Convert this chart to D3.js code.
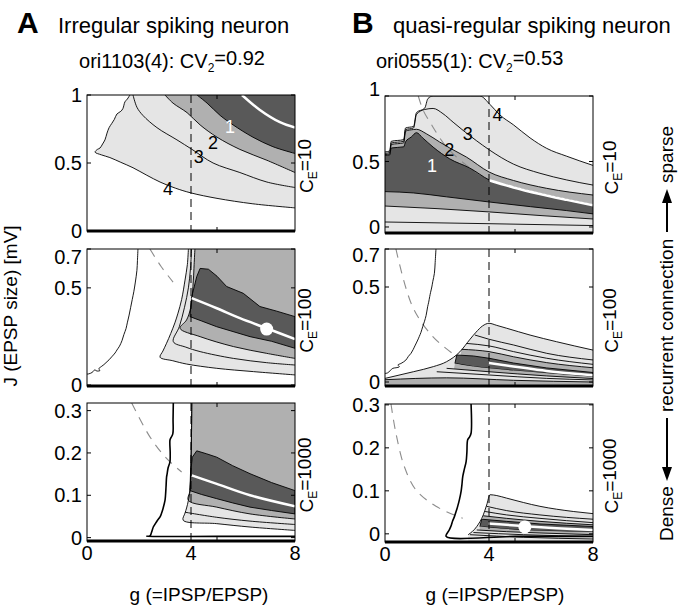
<!DOCTYPE html>
<html>
<head>
<meta charset="utf-8">
<script src="https://cdnjs.cloudflare.com/ajax/libs/d3/7.8.5/d3.min.js"></script>
<style>
body { margin: 0; background: #fff; }
svg { font-family: "Liberation Sans", Arial, sans-serif; }
</style>
</head>
<body>
<svg width="692" height="608"></svg>
<script>
const svg = d3.select("svg");

const light = "#e5e5e5", mid = "#b0b0b0", dark = "#595959";

// axis values
const gTicks = [0, 4, 8];
const gMinorTicks = [5];
const jTicksTop = [0, 0.5, 1];
const jTicksMid = [0, 0.5, 0.7];
const jTicksBot = [0, 0.1, 0.2, 0.3];
const ceValues = ["10", "100", "1000"];
const gBalance = 4;

// ---- A, C_E = 10 : contour lines as [g, J] ----
const aTopC4 = [[1.65,1.0],[1.55,0.97],[1.46,0.95],[1.38,0.90],[1.3,0.88],[1.15,0.86],[1.05,0.82],[0.95,0.79],[0.85,0.76],[0.77,0.72],[0.69,0.67],[0.6,0.64],[0.5,0.61],[0.4,0.60],[0.31,0.58],[0.55,0.56],[0.88,0.54],[1.3,0.505],[1.77,0.465],[2.3,0.41],[2.81,0.36],[3.4,0.315],[4.0,0.28],[5.0,0.24],[6.38,0.20],[8,0.17]];
const aTopC3 = [[1.77,1.0],[1.92,0.91],[2.15,0.85],[2.69,0.76],[3.46,0.67],[4.04,0.60],[4.85,0.50],[5.88,0.43],[6.92,0.36],[8,0.32]];
const aTopC2 = [[3.0,1.0],[3.31,0.94],[3.85,0.87],[4.35,0.78],[5.0,0.69],[5.88,0.60],[6.92,0.52],[8,0.43]];
const aTopC1 = [[4.23,1.0],[4.62,0.94],[5.12,0.85],[5.62,0.78],[6.38,0.69],[7.15,0.62],[8,0.57]];
const aTopWhite = [[5.96,1.0],[6.65,0.89],[7.42,0.80],[8,0.76]];
const aTopLabels = [["4",3.12,0.316],["3",4.3,0.544],["2",4.85,0.654],["1",5.5,0.765]];

// ---- A, C_E = 100 ----
const aMidEdge = [[1.96,0.70],[1.94,0.64],[1.92,0.59],[1.86,0.53],[1.80,0.48],[1.74,0.44],[1.68,0.40],[1.62,0.36],[1.55,0.32],[1.50,0.29],[1.42,0.26],[1.35,0.23],[1.25,0.20],[1.15,0.18],[1.08,0.165],[0.95,0.145],[0.85,0.13],[0.77,0.12],[0.65,0.105],[0.55,0.095],[0.45,0.083],[0.5,0.075],[0.38,0.072],[0.3,0.078],[0.2,0.065],[0.08,0.058],[0,0.056]];
const aMidGray = [[2.42,0.70],[2.85,0.61],[3.31,0.53]];
const aMidL = [[3.90,0.70],[3.86,0.62],[3.77,0.54],[3.64,0.44],[3.50,0.37],[3.38,0.32],[3.22,0.265],[3.06,0.215],[2.92,0.175],[2.81,0.143],[3.3,0.125],[3.83,0.108],[4.99,0.086],[6.40,0.069],[8,0.052]];
const aMidLine2 = [[4.02,0.70],[3.98,0.60],[3.90,0.50],[3.75,0.40],[3.55,0.30],[3.32,0.223],[3.8,0.195],[4.35,0.172],[5.63,0.137],[6.91,0.115],[8,0.103]];
const aMidMed = [[4.15,0.70],[4.12,0.62],[4.09,0.54],[3.99,0.40],[3.83,0.335],[3.58,0.292],[4.35,0.249],[5.63,0.198],[6.91,0.163],[8,0.137]];
const aMidDark = [[4.35,0.60],[4.67,0.596],[5.0,0.56],[5.37,0.507],[6.01,0.472],[6.65,0.404],[7.3,0.38],[8,0.352],[8,0.189],[7.1,0.225],[6.27,0.249],[4.99,0.30],[4.4,0.33],[3.96,0.352],[3.99,0.40],[4.03,0.455],[4.22,0.558]];
const aMidWhite = [[4.03,0.447],[4.99,0.395],[5.88,0.344],[6.91,0.292],[8,0.236]];
const aMidDot = [[6.91,0.288]];

// ---- A, C_E = 1000 ----
const aBotEdge = [[3.32,0.32],[3.31,0.28],[3.30,0.245],[3.22,0.235],[3.19,0.23],[3.2,0.2],[3.19,0.179],[3.12,0.165],[3.08,0.15],[3.06,0.143],[3.04,0.12],[3.02,0.10],[3.0,0.088],[2.93,0.07],[2.87,0.058],[2.81,0.049],[2.7,0.04],[2.6,0.03],[2.55,0.025],[2.48,0.012],[2.42,0.004],[2.3,0.003],[5,0.003],[8,0.003]];
const aBotGray = [[1.72,0.318],[2.42,0.238],[3.06,0.187],[3.64,0.155]];
const aBotL = [[4.03,0.318],[4.02,0.25],[4.0,0.18],[3.96,0.111],[3.90,0.088],[3.83,0.070],[3.77,0.058],[3.70,0.041],[4.99,0.033],[6.27,0.025],[8,0.017]];
const aBotLine5 = [[3.77,0.060],[4.99,0.048],[6.27,0.039],[8,0.031]];
const aBotBand4 = [[4.03,0.318],[4.02,0.25],[4.0,0.18],[3.96,0.111],[3.90,0.088],[4.99,0.072],[6.27,0.056],[8,0.044]];
const aBotDark = [[4.22,0.205],[4.6,0.198],[4.99,0.190],[5.6,0.17],[6.27,0.151],[7.1,0.13],[8,0.111],[8,0.056],[7.1,0.064],[6.27,0.072],[5.6,0.082],[4.99,0.092],[4.4,0.102],[3.96,0.111],[3.98,0.15],[4.05,0.19]];
const aBotWhite = [[4.03,0.147],[4.99,0.127],[6.27,0.100],[8,0.074]];

// ---- B, C_E = 10 ----
const bTopOuter = [[0,0.573],[0.18,0.58],[0.24,0.654],[0.72,0.667],[0.79,0.756],[1.10,0.768],[1.21,0.873],[1.53,0.908],[1.65,0.98],[1.85,1.0],[2.6,1.0],[3.3,1.0],[3.65,1.0],[4.04,0.935],[4.42,0.855],[4.94,0.78],[5.58,0.68],[6.22,0.60],[6.99,0.54],[8,0.47]];
const bTopC3 = [[0,0.562],[0.18,0.568],[0.24,0.641],[0.72,0.654],[0.79,0.743],[1.10,0.756],[1.21,0.86],[1.53,0.897],[1.85,0.905],[2.23,0.865],[2.62,0.80],[3.0,0.738],[3.51,0.66],[4.0,0.59],[4.94,0.48],[5.96,0.41],[6.99,0.359],[8,0.32]];
const bTopC2 = [[0,0.553],[0.18,0.558],[0.24,0.630],[0.72,0.642],[0.79,0.732],[1.10,0.744],[1.21,0.746],[1.59,0.712],[2.1,0.649],[2.49,0.603],[3.13,0.534],[4.0,0.42],[4.94,0.355],[6.22,0.295],[8,0.244]];
const bTopC1 = [[0,0.547],[0.18,0.55],[0.24,0.603],[0.72,0.612],[0.79,0.65],[1.01,0.687],[1.21,0.72],[1.45,0.68],[1.85,0.61],[2.49,0.52],[3.26,0.45],[4.0,0.36],[4.94,0.305],[5.96,0.255],[6.99,0.21],[8,0.168]];
const bTopWhite = [[4.0,0.357],[4.94,0.302],[5.96,0.252],[6.99,0.207],[8,0.165]];
const bTopDB = [[0,0.27],[1.09,0.26],[2.37,0.23],[4.04,0.19],[5.6,0.155],[6.99,0.125],[8,0.10]];
const bTopLB = [[0,0.16],[2,0.14],[4,0.115],[6,0.087],[8,0.061]];
const bTopLA = [[0,0.038],[4,0.025],[8,0.011]];
const bTopGray = [[1.28,1.0],[1.47,0.89],[1.73,0.80],[2.37,0.61],[3.14,0.47],[3.91,0.37]];
const bTopLabels = [["4",4.33,0.855],["3",3.18,0.715],["2",2.47,0.588],["1",1.81,0.473]];

// ---- B, C_E = 100 ----
const bMidEdge = [[1.96,0.70],[1.93,0.63],[1.90,0.572],[1.84,0.53],[1.80,0.50],[1.75,0.47],[1.72,0.45],[1.68,0.42],[1.64,0.396],[1.58,0.35],[1.52,0.32],[1.45,0.291],[1.38,0.26],[1.32,0.24],[1.26,0.221],[1.15,0.19],[1.08,0.17],[1.0,0.151],[0.9,0.135],[0.8,0.115],[0.62,0.098],[0.5,0.09],[0.55,0.08],[0.42,0.075],[0.30,0.072],[0.2,0.06],[0.10,0.048],[0,0.045]];
const bMidGray = [[0.42,0.70],[1.06,0.396],[1.83,0.24],[2.6,0.15]];
const bMidOuter = [[0,0.019],[1.09,0.054],[1.86,0.081],[2.37,0.107],[2.88,0.159],[3.27,0.225],[3.5,0.262],[3.75,0.295],[4.0,0.309],[4.3,0.298],[4.68,0.283],[5.58,0.247],[6.6,0.212],[8,0.168]];
const bMidI1 = [[3.46,0.247],[4.0,0.225],[4.94,0.195],[6.22,0.151],[8,0.116]];
const bMidI2 = [[3.14,0.203],[4.0,0.19],[4.94,0.16],[6.22,0.125],[8,0.093]];
const bMidI3 = [[2.95,0.172],[4.0,0.16],[4.94,0.133],[6.22,0.102],[8,0.075]];
const bMidDarkTop = [[2.76,0.142],[3.40,0.137],[4.0,0.125],[4.94,0.10],[6.22,0.074],[8,0.05]];
const bMidWhite = [[4.0,0.10],[4.94,0.082],[6.22,0.058],[8,0.036]];
const bMidDarkBot = [[2.69,0.098],[3.40,0.081],[4.0,0.072],[4.94,0.06],[6.22,0.046],[8,0.028]];
const bMidI6 = [[2.37,0.072],[4.0,0.054],[6.22,0.032],[8,0.018]];
const bMidI7 = [[1.99,0.054],[4.0,0.037],[6.22,0.019],[8,0.011]];
const bMidBottom = [[0,0.012],[2.37,0.022],[4.94,0.009],[8,0.0]];

// ---- B, C_E = 1000 ----
const bBotEdge = [[3.31,0.302],[3.31,0.234],[3.25,0.225],[3.18,0.219],[3.15,0.19],[3.12,0.168],[3.05,0.15],[2.99,0.133],[2.96,0.115],[2.93,0.10],[2.86,0.079],[2.80,0.065],[2.75,0.055],[2.67,0.04],[2.6,0.03],[2.55,0.02],[2.47,0.009],[2.35,-0.006],[5,-0.006],[8,-0.006]];
const bBotGray = [[0.23,0.302],[0.42,0.234],[0.74,0.157],[1.19,0.102],[1.96,0.064],[2.99,0.036]];
const bBotOuter = [[3.20,-0.002],[3.53,0.017],[3.78,0.044],[3.91,0.067],[4.04,0.091],[4.3,0.089],[4.68,0.083],[5.96,0.064],[7.24,0.052],[8,0.047]];
const bBotI1 = [[3.91,0.064],[4.68,0.054],[5.96,0.044],[8,0.034]];
const bBotI2 = [[3.85,0.052],[4.68,0.044],[5.96,0.036],[8,0.026]];
const bBotI3 = [[3.78,0.042],[4.68,0.036],[5.96,0.029],[8,0.021]];
const bBotDarkTop = [[3.72,0.034],[4.68,0.029],[5.96,0.023],[8,0.017]];
const bBotWhite = [[3.97,0.024],[5.32,0.018],[6.60,0.013],[8,0.009]];
const bBotDarkBot = [[3.65,0.017],[4.68,0.011],[5.96,0.007],[8,0.004]];
const bBotI6 = [[3.53,0.009],[4.68,0.005],[5.96,0.002],[8,-0.002]];
const bBotI7 = [[3.40,0.003],[5.32,-0.002],[8,-0.006]];
const bBotBottom = [[3.27,-0.002],[5.32,-0.008],[8,-0.012]];
const bBotDot = [[5.38,0.016]];

// ---------- helpers ----------
const smooth = d3.curveCatmullRom.alpha(0.5);
const mono = d3.curveMonotoneX;
let clipCount = 0;

function makePanel(box, jDom) {
    const x = d3.scaleLinear().domain([0, 8]).range([box.x0, box.x1]);
    const y = d3.scaleLinear().domain(jDom).range([box.y1, box.y0]);
    const id = "clip" + (clipCount++);
    svg.append("clipPath").attr("id", id)
        .append("rect")
        .attr("x", box.x0).attr("y", box.y0)
        .attr("width", box.x1 - box.x0).attr("height", box.y1 - box.y0);
    const g = svg.append("g").attr("clip-path", "url(#" + id + ")");
    return { box, jDom, x, y, g };
}

function pathOf(p, pts, curve) {
    return d3.line().x(d => p.x(d[0])).y(d => p.y(d[1])).curve(curve || smooth)(pts);
}

function pt(p, g, j) {
    return "L" + p.x(g) + "," + p.y(j);
}

function fillAbove(p, pts, color, curve) {
    const top = p.jDom[1] + 0.1;
    const last = pts[pts.length - 1];
    const d = pathOf(p, pts, curve) + pt(p, 8.5, last[1]) + pt(p, 8.5, top) + pt(p, pts[0][0], top) + "Z";
    p.g.append("path").attr("d", d).attr("fill", color);
}

function fillBelow(p, pts, color, g0, curve) {
    const bot = p.jDom[0] - 0.1;
    const last = pts[pts.length - 1];
    const start = g0 === undefined ? pts[0][0] : g0;
    const d = pathOf(p, pts, curve) + pt(p, 8.5, last[1]) + pt(p, 8.5, bot) + pt(p, start, bot) + "Z";
    p.g.append("path").attr("d", d).attr("fill", color);
}

function polygon(p, pts, color) {
    p.g.append("path")
        .attr("d", d3.line().x(d => p.x(d[0])).y(d => p.y(d[1])).curve(d3.curveLinearClosed)(pts))
        .attr("fill", color)
        .attr("stroke", "#000")
        .attr("stroke-width", 0.9);
}

function stroke(p, pts, opts) {
    opts = opts || {};
    p.g.append("path")
        .attr("d", pathOf(p, pts, opts.curve))
        .attr("fill", "none")
        .attr("stroke", opts.color || "#000")
        .attr("stroke-width", opts.width || 0.9)
        .attr("stroke-dasharray", opts.dash || null);
}

function grayDash(p, pts) {
    stroke(p, pts, { color: "#8c8c8c", width: 1.1, dash: "9,7" });
}

function balanceLine(p) {
    p.g.append("line")
        .attr("x1", p.x(gBalance)).attr("x2", p.x(gBalance))
        .attr("y1", p.box.y0).attr("y2", p.box.y1)
        .attr("stroke", "#000").attr("stroke-width", 1)
        .attr("stroke-dasharray", "8,5");
}

function dots(p, pts) {
    p.g.selectAll(null).data(pts).enter().append("circle")
        .attr("cx", d => p.x(d[0])).attr("cy", d => p.y(d[1]))
        .attr("r", 6.5).attr("fill", "#fff");
}

function contourLabels(p, labels) {
    p.g.selectAll(null).data(labels).enter().append("text")
        .attr("x", d => p.x(d[1])).attr("y", d => p.y(d[2]))
        .attr("dy", "0.36em")
        .attr("text-anchor", "middle")
        .style("font-size", "18px")
        .attr("fill", d => d[0] === "1" ? "#fff" : "#000")
        .text(d => d[0]);
}

// topShift: the top tick label sits a little off its tick in the original
function frame(p, jTicks, ce, ceX, showG, topShift) {
    const b = p.box;
    svg.append("rect")
        .attr("x", b.x0).attr("y", b.y0)
        .attr("width", b.x1 - b.x0).attr("height", b.y1 - b.y0)
        .attr("fill", "none").attr("stroke", "#000").attr("stroke-width", 1);
    svg.append("line")
        .attr("x1", b.x0).attr("x2", b.x1).attr("y1", b.y1).attr("y2", b.y1)
        .attr("stroke", "#000").attr("stroke-width", 3);

    const jMax = d3.max(jTicks);
    jTicks.forEach(t => {
        const yy = p.y(t);
        svg.append("line").attr("x1", b.x0).attr("x2", b.x0 + 4).attr("y1", yy).attr("y2", yy).attr("stroke", "#000");
        svg.append("line").attr("x1", b.x1).attr("x2", b.x1 - 4).attr("y1", yy).attr("y2", yy).attr("stroke", "#000");
        svg.append("text")
            .attr("x", b.x0 - 5).attr("y", yy + (t === jMax ? (topShift || 0) : 0)).attr("dy", "0.36em")
            .attr("text-anchor", "end")
            .style("font-size", "20px")
            .text(String(t));
    });

    gMinorTicks.forEach(t => {
        const xx = p.x(t);
        svg.append("line").attr("x1", xx).attr("x2", xx).attr("y1", b.y0).attr("y2", b.y0 + 4).attr("stroke", "#000");
        svg.append("line").attr("x1", xx).attr("x2", xx).attr("y1", b.y1).attr("y2", b.y1 - 4).attr("stroke", "#000");
    });

    if (showG) {
        gTicks.forEach(t => {
            svg.append("text")
                .attr("x", p.x(t)).attr("y", b.y1 + 19)
                .attr("text-anchor", "middle")
                .style("font-size", "20px")
                .text(String(t));
        });
    }

    const t = svg.append("text")
        .attr("transform", "translate(" + ceX + "," + ((b.y0 + b.y1) / 2 + 3) + ") rotate(-90)")
        .attr("text-anchor", "middle")
        .style("font-size", "19px");
    t.append("tspan").text("C");
    t.append("tspan").attr("dy", "0.35em").style("font-size", "12px").text("E");
    t.append("tspan").attr("dy", "-0.35em").text("=" + ce);
}

// ---------- A : C_E = 10 ----------
const pA1 = makePanel({ x0: 87, x1: 295, y0: 95, y1: 231 }, [0, 1]);
fillAbove(pA1, aTopC4, light);
fillAbove(pA1, aTopC2, mid);
fillAbove(pA1, aTopC1, dark);
[aTopC4, aTopC3, aTopC2, aTopC1].forEach(c => stroke(pA1, c));
stroke(pA1, aTopWhite, { color: "#fff", width: 2.5 });
balanceLine(pA1);
contourLabels(pA1, aTopLabels);
frame(pA1, jTicksTop, ceValues[0], 313, false, 0);

// ---------- A : C_E = 100 ----------
const pA2 = makePanel({ x0: 87, x1: 295, y0: 249, y1: 386 }, [-0.005, 0.7]);
grayDash(pA2, aMidGray);
fillAbove(pA2, aMidL, light);
fillAbove(pA2, aMidMed, mid);
polygon(pA2, aMidDark, dark);
stroke(pA2, aMidEdge);
[aMidL, aMidLine2, aMidMed].forEach(c => stroke(pA2, c));
stroke(pA2, aMidWhite, { color: "#fff", width: 2.5 });
dots(pA2, aMidDot);
balanceLine(pA2);
frame(pA2, jTicksMid, ceValues[1], 313, false, 8);

// ---------- A : C_E = 1000 ----------
const pA3 = makePanel({ x0: 87, x1: 295, y0: 403, y1: 541 }, [-0.008, 0.318]);
grayDash(pA3, aBotGray);
fillAbove(pA3, aBotL, light);
fillAbove(pA3, aBotBand4, mid);
polygon(pA3, aBotDark, dark);
stroke(pA3, aBotEdge, { width: 1.6 });
[aBotL, aBotLine5, aBotBand4].forEach(c => stroke(pA3, c));
stroke(pA3, aBotWhite, { color: "#fff", width: 2.5 });
balanceLine(pA3);
frame(pA3, jTicksBot, ceValues[2], 313, true, 0);

// ---------- B : C_E = 10 ----------
const pB1 = makePanel({ x0: 385, x1: 593, y0: 96, y1: 233 }, [-0.046, 1.0]);
fillBelow(pB1, bTopOuter, light, 0, mono);
fillBelow(pB1, bTopC2, mid, 0, mono);
fillBelow(pB1, bTopC1, dark, 0, mono);
fillBelow(pB1, bTopDB, mid, 0, mono);
fillBelow(pB1, bTopLB, light, 0, mono);
grayDash(pB1, bTopGray);
[bTopOuter, bTopC3, bTopC2, bTopC1, bTopDB, bTopLB, bTopLA].forEach(c => stroke(pB1, c, { curve: mono }));
stroke(pB1, bTopWhite, { color: "#fff", width: 2.5, curve: mono });
balanceLine(pB1);
contourLabels(pB1, bTopLabels);
frame(pB1, jTicksTop, ceValues[0], 618, false, -7);

// ---------- B : C_E = 100 ----------
const pB2 = makePanel({ x0: 385, x1: 593, y0: 249, y1: 386 }, [-0.021, 0.7]);
grayDash(pB2, bMidGray);
fillBelow(pB2, bMidOuter, light, 0, mono);
fillBelow(pB2, bMidI3, mid, 2.5, mono);
polygon(pB2, bMidDarkTop.concat(bMidDarkBot.slice().reverse()), dark);
fillBelow(pB2, bMidDarkBot, mid, 2.4, mono);
fillBelow(pB2, bMidI6, light, 2.0, mono);
fillBelow(pB2, bMidBottom, mid, 0, mono);
stroke(pB2, bMidEdge);
[bMidOuter, bMidI1, bMidI2, bMidI3, bMidI6, bMidI7, bMidBottom].forEach(c => stroke(pB2, c, { curve: mono }));
stroke(pB2, bMidWhite, { color: "#fff", width: 2.5, curve: mono });
balanceLine(pB2);
frame(pB2, jTicksMid, ceValues[1], 618, false, 6);

// ---------- B : C_E = 1000 ----------
const pB3 = makePanel({ x0: 385, x1: 593, y0: 404, y1: 542 }, [-0.019, 0.302]);
grayDash(pB3, bBotGray);
fillBelow(pB3, bBotOuter, light, 3.2, mono);
fillBelow(pB3, bBotI3, mid, 3.5, mono);
polygon(pB3, bBotDarkTop.concat(bBotDarkBot.slice().reverse()), dark);
fillBelow(pB3, bBotDarkBot, mid, 3.5, mono);
fillBelow(pB3, bBotI6, light, 3.4, mono);
stroke(pB3, bBotEdge, { width: 1.6 });
[bBotOuter, bBotI1, bBotI2, bBotI3, bBotI6, bBotI7, bBotBottom].forEach(c => stroke(pB3, c, { curve: mono }));
stroke(pB3, bBotWhite, { color: "#fff", width: 2.5, curve: mono });
dots(pB3, bBotDot);
balanceLine(pB3);
frame(pB3, jTicksBot, ceValues[2], 618, true, 0);

// ---------- titles and axis names ----------
svg.append("text").attr("x", 17).attr("y", 33).style("font-size", "30px").style("font-weight", "bold").text("A");
svg.append("text").attr("x", 58).attr("y", 33).style("font-size", "22px").text("Irregular spiking neuron");
svg.append("text").attr("x", 352).attr("y", 33).style("font-size", "30px").style("font-weight", "bold").text("B");
svg.append("text").attr("x", 393).attr("y", 33).style("font-size", "22px").text("quasi-regular spiking neuron");

function subtitle(x, anchor, name, cv) {
    const t = svg.append("text").attr("x", x).attr("y", 68)
        .attr("text-anchor", anchor).style("font-size", "20px");
    t.append("tspan").text(name + ": CV");
    t.append("tspan").attr("dy", "0.35em").style("font-size", "12px").text("2");
    t.append("tspan").attr("dy", "-0.35em").text("=" + cv);
}
subtitle(172, "middle", "ori1103(4)", "0.92");
subtitle(376, "start", "ori0555(1)", "0.53");

svg.append("text")
    .attr("transform", "translate(17,306) rotate(-90)")
    .attr("text-anchor", "middle")
    .style("font-size", "19px")
    .text("J (EPSP size) [mV]");

svg.append("text").attr("x", 199).attr("y", 601).attr("text-anchor", "middle").style("font-size", "19px").text("g (=IPSP/EPSP)");
svg.append("text").attr("x", 495).attr("y", 601).attr("text-anchor", "middle").style("font-size", "19px").text("g (=IPSP/EPSP)");

// right side: Dense <- recurrent connection -> sparse
function vText(x, y, s) {
    svg.append("text")
        .attr("transform", "translate(" + x + "," + y + ") rotate(-90)")
        .attr("text-anchor", "start")
        .style("font-size", "19px")
        .text(s);
}
vText(673, 183, "sparse");
vText(673, 412, "recurrent connection");
vText(673, 541, "Dense");

svg.append("line").attr("x1", 667).attr("x2", 667).attr("y1", 232).attr("y2", 200).attr("stroke", "#000").attr("stroke-width", 2);
svg.append("path").attr("d", "M667,189L662,203L672,203Z").attr("fill", "#000");
svg.append("line").attr("x1", 667).attr("x2", 667).attr("y1", 418).attr("y2", 470).attr("stroke", "#000").attr("stroke-width", 2);
svg.append("path").attr("d", "M667,481L662,467L672,467Z").attr("fill", "#000");
</script>
</body>
</html>
